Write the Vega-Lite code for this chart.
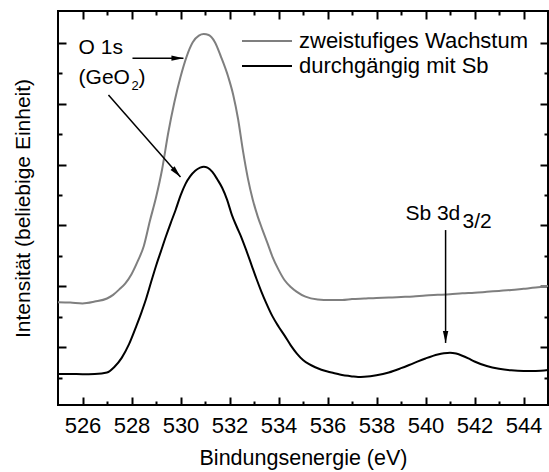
{
  "$schema": "https://vega.github.io/schema/vega-lite/v6.json",
  "width": 490,
  "height": 394,
  "autosize": "none",
  "padding": {"left": 58, "top": 11, "right": 1, "bottom": 67},
  "config": {
    "view": {"stroke": "black", "strokeWidth": 2},
    "font": "Liberation Sans",
    "axis": {"grid": false, "domain": false, "minExtent": 0, "maxExtent": 200, "tickColor": "black", "tickWidth": 2, "labelColor": "black", "titleColor": "black", "titleFontWeight": "normal"}
  },
  "datasets": {
    "spectra": [
      {"E": 525.0, "I": 3.48, "s": "zweistufiges Wachstum"},
      {"E": 525.5, "I": 3.47, "s": "zweistufiges Wachstum"},
      {"E": 526.0, "I": 3.44, "s": "zweistufiges Wachstum"},
      {"E": 526.5, "I": 3.5, "s": "zweistufiges Wachstum"},
      {"E": 527.0, "I": 3.6, "s": "zweistufiges Wachstum"},
      {"E": 527.25, "I": 3.72, "s": "zweistufiges Wachstum"},
      {"E": 527.5, "I": 3.9, "s": "zweistufiges Wachstum"},
      {"E": 527.75, "I": 4.1, "s": "zweistufiges Wachstum"},
      {"E": 528.0, "I": 4.4, "s": "zweistufiges Wachstum"},
      {"E": 528.25, "I": 4.82, "s": "zweistufiges Wachstum"},
      {"E": 528.5, "I": 5.32, "s": "zweistufiges Wachstum"},
      {"E": 528.75, "I": 6.15, "s": "zweistufiges Wachstum"},
      {"E": 529.0, "I": 6.92, "s": "zweistufiges Wachstum"},
      {"E": 529.25, "I": 7.85, "s": "zweistufiges Wachstum"},
      {"E": 529.5, "I": 9.05, "s": "zweistufiges Wachstum"},
      {"E": 529.75, "I": 10.05, "s": "zweistufiges Wachstum"},
      {"E": 530.0, "I": 10.88, "s": "zweistufiges Wachstum"},
      {"E": 530.25, "I": 11.55, "s": "zweistufiges Wachstum"},
      {"E": 530.5, "I": 12.02, "s": "zweistufiges Wachstum"},
      {"E": 530.75, "I": 12.24, "s": "zweistufiges Wachstum"},
      {"E": 530.95, "I": 12.29, "s": "zweistufiges Wachstum"},
      {"E": 531.15, "I": 12.26, "s": "zweistufiges Wachstum"},
      {"E": 531.4, "I": 12.03, "s": "zweistufiges Wachstum"},
      {"E": 531.65, "I": 11.55, "s": "zweistufiges Wachstum"},
      {"E": 531.95, "I": 10.88, "s": "zweistufiges Wachstum"},
      {"E": 532.15, "I": 10.3, "s": "zweistufiges Wachstum"},
      {"E": 532.35, "I": 9.5, "s": "zweistufiges Wachstum"},
      {"E": 532.55, "I": 8.45, "s": "zweistufiges Wachstum"},
      {"E": 532.75, "I": 7.55, "s": "zweistufiges Wachstum"},
      {"E": 532.95, "I": 6.85, "s": "zweistufiges Wachstum"},
      {"E": 533.15, "I": 6.3, "s": "zweistufiges Wachstum"},
      {"E": 533.35, "I": 5.85, "s": "zweistufiges Wachstum"},
      {"E": 533.55, "I": 5.42, "s": "zweistufiges Wachstum"},
      {"E": 533.75, "I": 4.98, "s": "zweistufiges Wachstum"},
      {"E": 534.0, "I": 4.55, "s": "zweistufiges Wachstum"},
      {"E": 534.25, "I": 4.2, "s": "zweistufiges Wachstum"},
      {"E": 534.5, "I": 3.98, "s": "zweistufiges Wachstum"},
      {"E": 534.75, "I": 3.82, "s": "zweistufiges Wachstum"},
      {"E": 535.1, "I": 3.66, "s": "zweistufiges Wachstum"},
      {"E": 535.6, "I": 3.57, "s": "zweistufiges Wachstum"},
      {"E": 536.1, "I": 3.55, "s": "zweistufiges Wachstum"},
      {"E": 536.6, "I": 3.55, "s": "zweistufiges Wachstum"},
      {"E": 537.0, "I": 3.58, "s": "zweistufiges Wachstum"},
      {"E": 537.5, "I": 3.6, "s": "zweistufiges Wachstum"},
      {"E": 538.0, "I": 3.62, "s": "zweistufiges Wachstum"},
      {"E": 538.5, "I": 3.63, "s": "zweistufiges Wachstum"},
      {"E": 539.0, "I": 3.65, "s": "zweistufiges Wachstum"},
      {"E": 539.5, "I": 3.67, "s": "zweistufiges Wachstum"},
      {"E": 540.0, "I": 3.7, "s": "zweistufiges Wachstum"},
      {"E": 540.5, "I": 3.72, "s": "zweistufiges Wachstum"},
      {"E": 541.0, "I": 3.74, "s": "zweistufiges Wachstum"},
      {"E": 541.5, "I": 3.77, "s": "zweistufiges Wachstum"},
      {"E": 542.0, "I": 3.79, "s": "zweistufiges Wachstum"},
      {"E": 542.5, "I": 3.82, "s": "zweistufiges Wachstum"},
      {"E": 543.0, "I": 3.85, "s": "zweistufiges Wachstum"},
      {"E": 543.5, "I": 3.88, "s": "zweistufiges Wachstum"},
      {"E": 544.0, "I": 3.92, "s": "zweistufiges Wachstum"},
      {"E": 544.5, "I": 3.96, "s": "zweistufiges Wachstum"},
      {"E": 545.0, "I": 4.01, "s": "zweistufiges Wachstum"},
      {"E": 525.0, "I": 1.12, "s": "durchgängig mit Sb"},
      {"E": 525.5, "I": 1.12, "s": "durchgängig mit Sb"},
      {"E": 526.0, "I": 1.11, "s": "durchgängig mit Sb"},
      {"E": 526.5, "I": 1.12, "s": "durchgängig mit Sb"},
      {"E": 527.0, "I": 1.17, "s": "durchgängig mit Sb"},
      {"E": 527.3, "I": 1.35, "s": "durchgängig mit Sb"},
      {"E": 527.6, "I": 1.65, "s": "durchgängig mit Sb"},
      {"E": 527.9, "I": 2.1, "s": "durchgängig mit Sb"},
      {"E": 528.2, "I": 2.7, "s": "durchgängig mit Sb"},
      {"E": 528.4, "I": 3.13, "s": "durchgängig mit Sb"},
      {"E": 528.6, "I": 3.6, "s": "durchgängig mit Sb"},
      {"E": 528.8, "I": 4.14, "s": "durchgängig mit Sb"},
      {"E": 529.0, "I": 4.67, "s": "durchgängig mit Sb"},
      {"E": 529.2, "I": 5.15, "s": "durchgängig mit Sb"},
      {"E": 529.4, "I": 5.63, "s": "durchgängig mit Sb"},
      {"E": 529.6, "I": 6.08, "s": "durchgängig mit Sb"},
      {"E": 529.8, "I": 6.51, "s": "durchgängig mit Sb"},
      {"E": 530.0, "I": 6.98, "s": "durchgängig mit Sb"},
      {"E": 530.2, "I": 7.36, "s": "durchgängig mit Sb"},
      {"E": 530.4, "I": 7.62, "s": "durchgängig mit Sb"},
      {"E": 530.6, "I": 7.8, "s": "durchgängig mit Sb"},
      {"E": 530.8, "I": 7.9, "s": "durchgängig mit Sb"},
      {"E": 530.95, "I": 7.93, "s": "durchgängig mit Sb"},
      {"E": 531.1, "I": 7.9, "s": "durchgängig mit Sb"},
      {"E": 531.3, "I": 7.76, "s": "durchgängig mit Sb"},
      {"E": 531.5, "I": 7.52, "s": "durchgängig mit Sb"},
      {"E": 531.7, "I": 7.24, "s": "durchgängig mit Sb"},
      {"E": 531.9, "I": 6.85, "s": "durchgängig mit Sb"},
      {"E": 532.1, "I": 6.34, "s": "durchgängig mit Sb"},
      {"E": 532.3, "I": 5.95, "s": "durchgängig mit Sb"},
      {"E": 532.5, "I": 5.58, "s": "durchgängig mit Sb"},
      {"E": 532.7, "I": 5.15, "s": "durchgängig mit Sb"},
      {"E": 532.9, "I": 4.7, "s": "durchgängig mit Sb"},
      {"E": 533.1, "I": 4.25, "s": "durchgängig mit Sb"},
      {"E": 533.3, "I": 3.83, "s": "durchgängig mit Sb"},
      {"E": 533.5, "I": 3.45, "s": "durchgängig mit Sb"},
      {"E": 533.75, "I": 3.02, "s": "durchgängig mit Sb"},
      {"E": 534.0, "I": 2.68, "s": "durchgängig mit Sb"},
      {"E": 534.25, "I": 2.38, "s": "durchgängig mit Sb"},
      {"E": 534.5, "I": 2.06, "s": "durchgängig mit Sb"},
      {"E": 534.75, "I": 1.79, "s": "durchgängig mit Sb"},
      {"E": 535.0, "I": 1.58, "s": "durchgängig mit Sb"},
      {"E": 535.25, "I": 1.44, "s": "durchgängig mit Sb"},
      {"E": 535.5, "I": 1.34, "s": "durchgängig mit Sb"},
      {"E": 535.75, "I": 1.26, "s": "durchgängig mit Sb"},
      {"E": 536.0, "I": 1.2, "s": "durchgängig mit Sb"},
      {"E": 536.25, "I": 1.15, "s": "durchgängig mit Sb"},
      {"E": 536.5, "I": 1.1, "s": "durchgängig mit Sb"},
      {"E": 537.0, "I": 1.04, "s": "durchgängig mit Sb"},
      {"E": 537.25, "I": 1.02, "s": "durchgängig mit Sb"},
      {"E": 537.5, "I": 1.03, "s": "durchgängig mit Sb"},
      {"E": 538.0, "I": 1.08, "s": "durchgängig mit Sb"},
      {"E": 538.5, "I": 1.17, "s": "durchgängig mit Sb"},
      {"E": 539.0, "I": 1.31, "s": "durchgängig mit Sb"},
      {"E": 539.5, "I": 1.47, "s": "durchgängig mit Sb"},
      {"E": 540.0, "I": 1.63, "s": "durchgängig mit Sb"},
      {"E": 540.5, "I": 1.76, "s": "durchgängig mit Sb"},
      {"E": 540.75, "I": 1.8, "s": "durchgängig mit Sb"},
      {"E": 541.0, "I": 1.82, "s": "durchgängig mit Sb"},
      {"E": 541.25, "I": 1.79, "s": "durchgängig mit Sb"},
      {"E": 541.5, "I": 1.72, "s": "durchgängig mit Sb"},
      {"E": 541.75, "I": 1.63, "s": "durchgängig mit Sb"},
      {"E": 542.0, "I": 1.53, "s": "durchgängig mit Sb"},
      {"E": 542.5, "I": 1.38, "s": "durchgängig mit Sb"},
      {"E": 543.0, "I": 1.29, "s": "durchgängig mit Sb"},
      {"E": 543.5, "I": 1.24, "s": "durchgängig mit Sb"},
      {"E": 544.0, "I": 1.22, "s": "durchgängig mit Sb"},
      {"E": 544.5, "I": 1.22, "s": "durchgängig mit Sb"},
      {"E": 545.0, "I": 1.25, "s": "durchgängig mit Sb"}
    ],
    "arrows": [
      {"id": "a1", "x": 528.04, "y": 11.5, "x2": 530.12, "y2": 11.5},
      {"id": "a2", "x": 527.06, "y": 10.29, "x2": 530.0, "y2": 7.59},
      {"id": "a3", "x": 540.82, "y": 5.85, "x2": 540.82, "y2": 2.14}
    ],
    "labels": [
      {"x": 525.84, "y": 11.83, "t": "O 1s"},
      {"x": 525.84, "y": 10.85, "t": "(GeO"},
      {"x": 528.29, "y": 10.85, "t": ")"},
      {"x": 539.18, "y": 6.38, "t": "Sb 3d"},
      {"x": 541.51, "y": 6.11, "t": "3/2"}
    ],
    "subs": [
      {"x": 528.0, "y": 10.58, "t": "2"}
    ]
  },
  "layer": [
    {
      "data": {"name": "spectra"},
      "mark": {"type": "line", "strokeWidth": 2, "interpolate": "monotone"},
      "encoding": {
        "x": {"field": "E", "type": "quantitative", "scale": {"domain": [525, 545], "nice": false, "zero": false},
          "axis": {"orient": "bottom", "values": [526, 528, 530, 532, 534, 536, 538, 540, 542, 544], "ticks": false, "labelFontSize": 22, "labelPadding": 10, "labelFlush": false, "title": "Bindungsenergie (eV)", "titleFontSize": 21.5, "titlePadding": 11}},
        "y": {"field": "I", "type": "quantitative", "scale": {"domain": [0.1, 13.05], "nice": false, "zero": false},
          "axis": {"orient": "left", "labels": false, "ticks": false, "title": "Intensität (beliebige Einheit)", "titleFontSize": 21, "titlePadding": 25}},
        "color": {"field": "s", "type": "nominal",
          "scale": {"domain": ["zweistufiges Wachstum", "durchgängig mit Sb"], "range": ["#7f7f7f", "#000000"]},
          "legend": {"orient": "none", "legendX": 183, "legendY": 17.5, "title": null, "symbolType": "stroke", "symbolSize": 2500, "symbolStrokeWidth": 2, "clipHeight": 25, "rowPadding": 0, "padding": 0, "labelOffset": 6, "labelFontSize": 22, "labelColor": "black", "labelLimit": 400}}
      }
    },
    {
      "data": {"values": [{"E": 535, "I": 5}]},
      "mark": {"type": "point", "opacity": 0},
      "encoding": {
        "x": {"field": "E", "type": "quantitative", "scale": {"domain": [525, 545], "nice": false, "zero": false},
          "axis": {"orient": "bottom", "values": [526, 528, 530, 532, 534, 536, 538, 540, 542, 544], "labels": false, "tickSize": -8, "title": null}},
        "y": {"field": "I", "type": "quantitative", "scale": {"domain": [0.1, 13.05], "nice": false, "zero": false},
          "axis": {"orient": "left", "values": [2, 4, 6, 8, 10, 12], "labels": false, "tickSize": -8, "title": null}}
      }
    },
    {
      "data": {"values": [{"E": 535, "I": 5}]},
      "mark": {"type": "point", "opacity": 0},
      "encoding": {
        "x": {"field": "E", "type": "quantitative", "scale": {"domain": [525, 545], "nice": false, "zero": false},
          "axis": {"orient": "bottom", "values": [527, 529, 531, 533, 535, 537, 539, 541, 543], "labels": false, "tickSize": -4, "title": null}},
        "y": {"field": "I", "type": "quantitative", "scale": {"domain": [0.1, 13.05], "nice": false, "zero": false},
          "axis": {"orient": "left", "values": [1, 3, 5, 7, 9, 11], "labels": false, "tickSize": -4, "title": null}}
      }
    },
    {
      "data": {"values": [{"E": 535, "I": 5}]},
      "mark": {"type": "point", "opacity": 0},
      "encoding": {
        "x": {"field": "E", "type": "quantitative", "scale": {"domain": [525, 545], "nice": false, "zero": false},
          "axis": {"orient": "top", "values": [526, 528, 530, 532, 534, 536, 538, 540, 542, 544], "labels": false, "tickSize": -8, "title": null}},
        "y": {"field": "I", "type": "quantitative", "scale": {"domain": [0.1, 13.05], "nice": false, "zero": false},
          "axis": {"orient": "right", "values": [2, 4, 6, 8, 10, 12], "labels": false, "tickSize": -8, "title": null}}
      }
    },
    {
      "data": {"values": [{"E": 535, "I": 5}]},
      "mark": {"type": "point", "opacity": 0},
      "encoding": {
        "x": {"field": "E", "type": "quantitative", "scale": {"domain": [525, 545], "nice": false, "zero": false},
          "axis": {"orient": "top", "values": [527, 529, 531, 533, 535, 537, 539, 541, 543], "labels": false, "tickSize": -4, "title": null}},
        "y": {"field": "I", "type": "quantitative", "scale": {"domain": [0.1, 13.05], "nice": false, "zero": false},
          "axis": {"orient": "right", "values": [1, 3, 5, 7, 9, 11], "labels": false, "tickSize": -4, "title": null}}
      }
    },
    {
      "data": {"name": "arrows"},
      "mark": {"type": "rule", "color": "black", "strokeWidth": 1.5},
      "encoding": {
        "x": {"field": "x", "type": "quantitative", "axis": null, "scale": {"domain": [525, 545], "nice": false, "zero": false}},
        "y": {"field": "y", "type": "quantitative", "axis": null, "scale": {"domain": [0.1, 13.05], "nice": false, "zero": false}},
        "x2": {"field": "x2"},
        "y2": {"field": "y2"}
      }
    },
    {
      "data": {"name": "arrows"},
      "transform": [{"filter": "datum.id === 'a1'"}],
      "mark": {"type": "point", "shape": "M0,0L0.45,2L-0.45,2Z", "filled": true, "color": "black", "opacity": 1, "size": 144, "angle": 90},
      "encoding": {
        "x": {"field": "x2", "type": "quantitative", "axis": null, "scale": {"domain": [525, 545], "nice": false, "zero": false}},
        "y": {"field": "y2", "type": "quantitative", "axis": null, "scale": {"domain": [0.1, 13.05], "nice": false, "zero": false}}
      }
    },
    {
      "data": {"name": "arrows"},
      "transform": [{"filter": "datum.id === 'a2'"}],
      "mark": {"type": "point", "shape": "M0,0L0.45,2L-0.45,2Z", "filled": true, "color": "black", "opacity": 1, "size": 144, "angle": 138.7},
      "encoding": {
        "x": {"field": "x2", "type": "quantitative", "axis": null, "scale": {"domain": [525, 545], "nice": false, "zero": false}},
        "y": {"field": "y2", "type": "quantitative", "axis": null, "scale": {"domain": [0.1, 13.05], "nice": false, "zero": false}}
      }
    },
    {
      "data": {"name": "arrows"},
      "transform": [{"filter": "datum.id === 'a3'"}],
      "mark": {"type": "point", "shape": "M0,0L0.45,2L-0.45,2Z", "filled": true, "color": "black", "opacity": 1, "size": 144, "angle": 180},
      "encoding": {
        "x": {"field": "x2", "type": "quantitative", "axis": null, "scale": {"domain": [525, 545], "nice": false, "zero": false}},
        "y": {"field": "y2", "type": "quantitative", "axis": null, "scale": {"domain": [0.1, 13.05], "nice": false, "zero": false}}
      }
    },
    {
      "data": {"name": "labels"},
      "mark": {"type": "text", "align": "left", "baseline": "middle", "fontSize": 21, "color": "black"},
      "encoding": {
        "x": {"field": "x", "type": "quantitative", "axis": null, "scale": {"domain": [525, 545], "nice": false, "zero": false}},
        "y": {"field": "y", "type": "quantitative", "axis": null, "scale": {"domain": [0.1, 13.05], "nice": false, "zero": false}},
        "text": {"field": "t"}
      }
    },
    {
      "data": {"name": "subs"},
      "mark": {"type": "text", "align": "left", "baseline": "middle", "fontSize": 13, "color": "black"},
      "encoding": {
        "x": {"field": "x", "type": "quantitative", "axis": null, "scale": {"domain": [525, 545], "nice": false, "zero": false}},
        "y": {"field": "y", "type": "quantitative", "axis": null, "scale": {"domain": [0.1, 13.05], "nice": false, "zero": false}},
        "text": {"field": "t"}
      }
    }
  ],
  "resolve": {"axis": {"x": "independent", "y": "independent"}}
}
